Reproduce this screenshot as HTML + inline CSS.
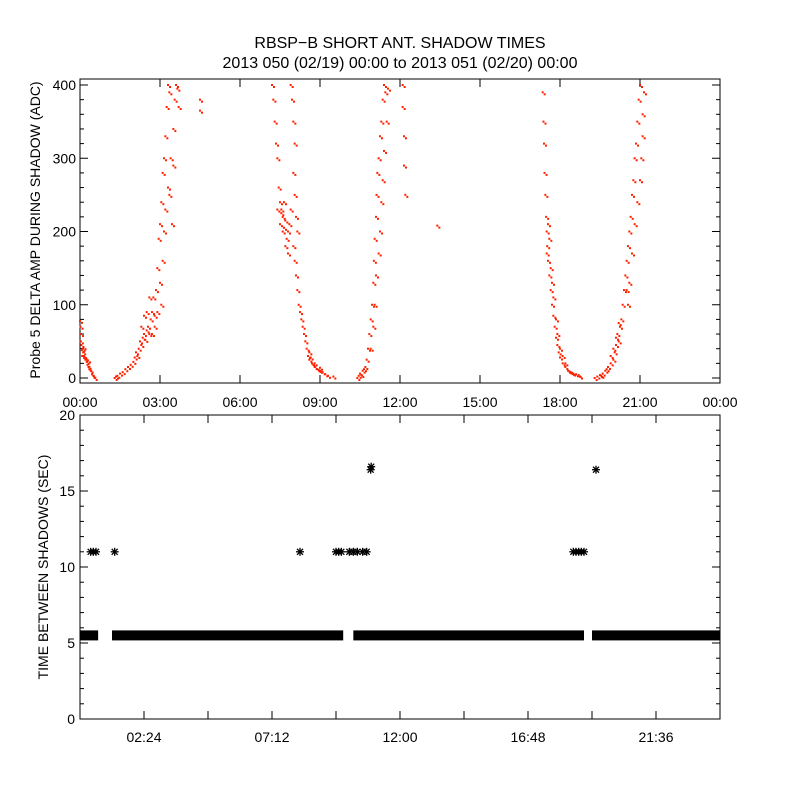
<!DOCTYPE html>
<html><head><meta charset="utf-8"><style>
body{margin:0;background:#fff;}
svg{display:block;}
text{font-family:"Liberation Sans",sans-serif;fill:#000;}
</style></head><body>
<svg id="chart" width="800" height="800" viewBox="0 0 800 800" xmlns="http://www.w3.org/2000/svg">
<rect width="800" height="800" fill="#fff"/>
<text x="400" y="48" font-size="16" text-anchor="middle">RBSP−B SHORT ANT. SHADOW TIMES</text>
<text x="400" y="68" font-size="16" text-anchor="middle">2013 050 (02/19) 00:00 to 2013 051 (02/20) 00:00</text>
<g id="topPanel"></g>
<g id="botPanel"></g>
<text transform="translate(40,230) rotate(-90)" font-size="14" text-anchor="middle">Probe 5 DELTA AMP DURING SHADOW (ADC)</text>
<text transform="translate(48,567) rotate(-90)" font-size="14" text-anchor="middle">TIME BETWEEN SHADOWS (SEC)</text>
</svg>
<script>
// top panel data (hours, ADC)
const ampHours = [0,0.02,0.03,0.04,0.05,0.07,0.08,0.1,0.12,0.13,0.15,0.18,0.2,0.25,0.28,0.3,0.32,0.35,0.4,0.45,0.5,0.55,
1.3,1.35,1.4,1.5,1.6,1.7,1.8,1.9,2.0,2.05,2.1,2.15,2.2,2.25,2.3,2.35,2.4,2.45,2.5,2.55,2.6,2.65,2.7,2.75,2.8,2.85,2.9,2.95,3.0,3.05,3.1,3.15,3.2,3.25,3.3,3.35,
3.0,3.05,3.1,3.15,3.2,3.3,3.4,3.5,3.55,3.6,3.45,3.35,3.5,3.65,3.7,2.3,2.4,2.5,2.6,2.7,2.8,2.9,4.5,4.5,
7.2,7.25,7.3,7.35,7.4,7.45,7.5,7.55,7.6,7.7,7.8,7.9,7.75,7.65,8.0,8.05,8.1,8.15,8.2,8.25,8.3,8.35,8.4,8.45,8.5,8.55,8.6,8.7,8.8,8.9,9.0,9.1,9.2,9.3,9.5,
7.9,7.95,8.0,8.05,8.0,8.05,8.1,8.15,7.5,7.6,7.7,7.8,7.4,8.6,8.8,9.0,7.55,7.65,7.85,8.65,8.75,8.95,
10.4,10.45,10.5,10.6,10.7,10.75,10.8,10.85,10.9,10.95,11.0,11.02,11.05,11.1,11.12,11.15,11.2,11.25,11.3,11.35,11.4,11.45,
10.9,11.0,11.05,11.1,11.2,11.25,11.3,11.35,11.4,11.5,11.55,12.1,12.1,12.15,12.15,12.2,13.4,10.55,10.65,
17.35,17.38,17.4,17.42,17.45,17.48,17.5,17.52,17.55,17.6,17.65,17.7,17.75,17.8,17.85,17.9,17.95,18.0,18.1,18.2,18.3,18.4,18.5,18.6,18.7,18.75,
17.5,17.55,17.6,17.65,17.7,17.75,17.85,17.9,18.0,18.1,18.2,18.35,18.45,
19.3,19.4,19.5,19.6,19.7,19.8,19.9,20.0,20.05,20.1,20.15,20.2,20.25,20.3,20.35,20.4,20.45,20.5,20.55,20.6,20.65,20.7,20.75,20.8,20.85,20.9,20.95,21.0,
20.6,20.7,20.8,20.9,21.0,21.05,21.1,21.1,21.15,19.9,20.0,20.1,20.2,20.5,20.55,19.55,19.75];
const ampValues = [78,70,50,60,45,38,30,40,35,42,30,28,25,22,18,24,15,12,10,5,3,0,
0,2,3,6,8,12,15,18,22,28,35,30,40,50,45,55,60,52,65,70,60,80,90,110,85,120,150,190,210,240,280,300,330,370,400,390,
130,100,160,200,230,260,300,340,380,400,210,250,290,395,370,70,85,90,110,60,70,90,380,365,
400,380,350,320,300,260,240,230,220,215,200,230,190,240,180,160,140,120,100,90,80,70,60,50,40,30,25,20,15,12,10,8,5,3,2,
400,380,350,320,280,250,220,200,210,200,180,170,230,35,20,14,225,205,210,28,18,11,
0,3,6,10,15,25,40,60,80,100,130,160,190,220,250,280,300,330,350,380,400,390,
40,70,100,140,170,200,240,270,310,350,395,400,370,330,290,250,208,4,12,
390,350,320,280,250,220,200,180,160,140,120,100,85,70,55,45,35,28,20,15,10,8,6,5,4,2,
170,210,190,150,130,110,80,60,40,30,20,9,7,
0,2,4,6,10,15,20,25,35,45,60,50,70,80,100,120,140,160,180,200,220,250,270,300,320,350,380,400,
130,170,210,240,270,300,330,360,390,30,40,55,75,120,100,3,12];
const topYTicks = [0,100,200,300,400];
const topXTicks = ["00:00","03:00","06:00","09:00","12:00","15:00","18:00","21:00","00:00"];
// bottom panel data
const bandStart = [0,1.2,10.25,19.2];
const bandEnd = [0.68,9.87,18.9,24];
const bandValue = 5.5;
const longHours = [0.4,0.5,0.6,1.3,8.25,9.6,9.7,9.8,10.1,10.25,10.4,10.6,10.75,18.5,18.6,18.7,18.8,18.9];
const longValues = [11,11,11,11,11,11,11,11,11,11,11,11,11,11,11,11,11,11];
const longerHours = [10.9,10.92,19.35];
const longerValues = [16.4,16.6,16.4];
const botYTicks = [0,5,10,15,20];
const botXTicks = ["02:24","07:12","12:00","16:48","21:36"];

const NS="http://www.w3.org/2000/svg";
const L=80,R=720;
const xS=h=>L+h*(R-L)/24;
const tyS=v=>378-v*0.7325;
const byS=v=>719-v*15.2;
function mk(tag,attrs,parent){const e=document.createElementNS(NS,tag);for(const k in attrs)e.setAttribute(k,attrs[k]);parent.appendChild(e);return e;}
const topG=document.getElementById('topPanel'), botG=document.getElementById('botPanel');

// top panel frame
let f=mk('rect',{x:L,y:79,width:R-L,height:304,fill:'none',stroke:'#000','stroke-width':1},topG);


for(let v=0;v<=400;v+=20){
  const y=tyS(v), len=(v%100===0)?8:4;
  mk('line',{x1:L,x2:L+len,y1:y,y2:y,stroke:'#000'},topG);
  mk('line',{x1:R,x2:R-len,y1:y,y2:y,stroke:'#000'},topG);
}
topYTicks.forEach(v=>{
  const t=mk('text',{x:L-4,y:tyS(v)+5,'font-size':14,'text-anchor':'end'},topG);
  t.textContent=v;
  
  
});
topXTicks.forEach((s,i)=>{
  const x=xS(i*3);
  mk('line',{x1:x,x2:x,y1:383,y2:375,stroke:'#000'},topG);
  mk('line',{x1:x,x2:x,y1:79,y2:87,stroke:'#000'},topG);
  const t=mk('text',{x:x,y:407,'font-size':14,'text-anchor':'middle'},topG);
  t.textContent=s;
  
  
});
ampHours.forEach((h,i)=>{
  const v=ampValues[i];
  const r=mk('rect',{x:xS(h)-1,y:tyS(v)-1,width:2,height:2,fill:'#ff2200'},topG);
  
  
  const r2=mk('rect',{x:xS(h)+1,y:tyS(v)+1,width:2,height:2,fill:'#ff2200'},topG);
  
  
});

// bottom panel frame
f=mk('rect',{x:L,y:415,width:R-L,height:304,fill:'none',stroke:'#000'},botG);


for(let v=0;v<=20;v++){
  const y=byS(v), len=(v%5===0)?8:4;
  mk('line',{x1:L,x2:L+len,y1:y,y2:y,stroke:'#000'},botG);
  mk('line',{x1:R,x2:R-len,y1:y,y2:y,stroke:'#000'},botG);
}
botYTicks.forEach(v=>{
  const t=mk('text',{x:L-5,y:byS(v)+5,'font-size':14,'text-anchor':'end'},botG);
  t.textContent=v;
  
  
});
for(let k=1;k<10;k++){
  const x=xS(k*2.4);
  mk('line',{x1:x,x2:x,y1:719,y2:711,stroke:'#000'},botG);
  mk('line',{x1:x,x2:x,y1:415,y2:423,stroke:'#000'},botG);
}
botXTicks.forEach((s,i)=>{
  const t=mk('text',{x:xS(2.4+i*4.8),y:742,'font-size':14,'text-anchor':'middle'},botG);
  t.textContent=s;
  
  
});
bandStart.forEach((s,i)=>{
  const r=mk('rect',{x:xS(s),y:byS(bandValue)-5,width:xS(bandEnd[i])-xS(s),height:10,fill:'#000'},botG);
  
  
});
function star(h,v){
  const g=mk('g',{transform:`translate(${xS(h)},${byS(v)})`,stroke:'#000','stroke-width':1.3},botG);
  
  
  mk('line',{x1:-4,x2:4,y1:0,y2:0},g);
  mk('line',{x1:0,x2:0,y1:-4,y2:4},g);
  mk('line',{x1:-3,x2:3,y1:-3,y2:3},g);
  mk('line',{x1:-3,x2:3,y1:3,y2:-3},g);
}
longHours.forEach((h,i)=>star(h,longValues[i]));
longerHours.forEach((h,i)=>star(h,longerValues[i]));
</script>
</body></html>
